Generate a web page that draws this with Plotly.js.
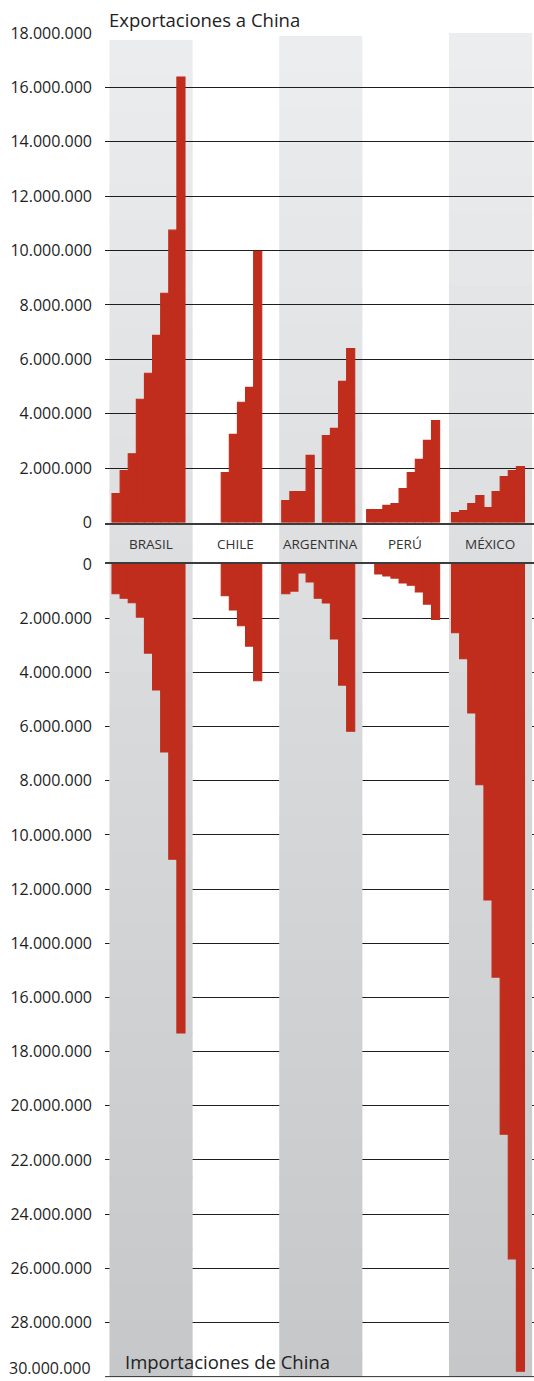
<!DOCTYPE html>
<html>
<head>
<meta charset="utf-8">
<script src="https://cdn.plot.ly/plotly-3.0.1.min.js"></script>
<style>
  html, body { margin: 0; padding: 0; background: #ffffff; }
  #chart { width: 534px; height: 1381px; }
</style>
</head>
<body>
<div id="chart"></div>
<script>
// ---- Data ----
const countries = ['BRASIL', 'CHILE', 'ARGENTINA', 'PERÚ', 'MÉXICO'];
const years = ['2000', '2001', '2002', '2003', '2004', '2005', '2006', '2007', '2008'];

// Exportaciones a China
const brasilExp    = [1060000, 1910000, 2530000, 4530000, 5490000, 6880000, 8430000, 10750000, 16380000];
const chileExp     = [0, 0, 0, 1840000, 3240000, 4420000, 4970000, 9970000, 0];
const argentinaExp = [810000, 1140000, 1140000, 2470000, 0, 3200000, 3460000, 5190000, 6400000];
const peruExp      = [480000, 480000, 630000, 700000, 1250000, 1840000, 2320000, 3020000, 3750000];
const mexicoExp    = [370000, 440000, 700000, 990000, 550000, 1140000, 1690000, 1910000, 2060000];

// Importaciones de China
const brasilImp    = [1100000, 1260000, 1430000, 1960000, 3290000, 4650000, 6940000, 10900000, 17310000];
const chileImp     = [0, 0, 0, 1170000, 1700000, 2280000, 3030000, 4310000, 0];
const argentinaImp = [1100000, 1000000, 330000, 660000, 1260000, 1440000, 2770000, 4470000, 6170000];
const peruImp      = [0, 370000, 440000, 520000, 700000, 780000, 1030000, 1480000, 2050000];
const mexicoImp    = [2540000, 3500000, 5500000, 8150000, 12400000, 15250000, 21050000, 25650000, 29800000];

const expTicks = [0, 2000000, 4000000, 6000000, 8000000, 10000000, 12000000, 14000000, 16000000, 18000000];
const impTicks = [0, 2000000, 4000000, 6000000, 8000000, 10000000, 12000000, 14000000, 16000000, 18000000,
                  20000000, 22000000, 24000000, 26000000, 28000000, 30000000];

const topTitle = 'Exportaciones a China';
const bottomTitle = 'Importaciones de China';

// ---- Styling / layout ----
const W = 534, H = 1381;
const ML = 105;
const RED = '#c02d1c';
const FONT = '"Open Sans", "Noto Sans", sans-serif';
const expSeries = [brasilExp, chileExp, argentinaExp, peruExp, mexicoExp];
const impSeries = [brasilImp, chileImp, argentinaImp, peruImp, mexicoImp];
const idx = countries.map((c, i) => i);
const nz = v => (v === 0 ? null : v);   // no data -> no bar
const fmt = v => v.toLocaleString('de-DE');

// pixel positions (from top) of panel edges
const TOP_Y0 = 522.5, TOP_Y1 = 33;
const BOT_Y0 = 1377.5, BOT_Y1 = 564;
const IMP_MAX = 30030000; // small headroom so the last gridline is kept
const pf = px => 1 - px / H;   // pixel -> paper fraction

const barMarker = { color: RED, line: { width: 1.1, color: RED } };
const traces = [];
years.forEach((yr, j) => {
  traces.push({
    type: 'bar', name: yr, x: idx, y: expSeries.map(s => nz(s[j])),
    xaxis: 'x', yaxis: 'y', marker: barMarker,
    showlegend: false, hoverinfo: 'skip'
  });
});
years.forEach((yr, j) => {
  traces.push({
    type: 'bar', name: yr, x: idx, y: impSeries.map(s => nz(s[j])),
    xaxis: 'x2', yaxis: 'y2', marker: barMarker,
    showlegend: false, hoverinfo: 'skip'
  });
});

// ---- Background bands (gradient approximated by strips) ----
const XR = [-0.5125, 4.542];
const bandIdx = [0, 2, 4];
const bandTop = [40, 36, 33];
const bandL = -0.46, bandR = 0.52;
const gTop = 38, gBot = 1377, cTop = 236, cBot = 198;
const colAt = px => {
  const t = Math.max(0, Math.min(1, (px - gTop) / (gBot - gTop)));
  const v = Math.round(cTop + (cBot - cTop) * t);
  return `rgb(${v},${v + 1},${v + 3})`;
};
const toV = px => (px - BOT_Y1) / (BOT_Y0 - BOT_Y1) * IMP_MAX;
const shapes = [];
bandIdx.forEach((ci, k) => {
  const step = 36;
  // upper part (top panel + label strip): below gridlines
  for (let p = bandTop[k]; p < BOT_Y1; p += step) {
    const p2 = Math.min(p + step + 1, BOT_Y1 + 1);
    shapes.push({
      type: 'rect', xref: 'x', yref: 'paper', layer: 'below',
      x0: ci + bandL, x1: ci + bandR, y0: pf(p2), y1: pf(p),
      fillcolor: colAt(p + step / 2), line: { width: 0 }
    });
  }
  // lower part (bottom panel): above gridlines, below bars
  for (let p = BOT_Y1; p < 1376.5; p += step) {
    const p2 = Math.min(p + step + 1, 1376.5);
    shapes.push({
      type: 'rect', xref: 'x2', yref: 'y2', layer: 'between',
      x0: ci + bandL, x1: ci + bandR, y0: toV(p), y1: toV(p2),
      fillcolor: colAt(p + step / 2), line: { width: 0 }
    });
  }
});
// closing rule at 30.000.000
const lastImpTick = impTicks[impTicks.length - 1];
shapes.push({
  type: 'line', xref: 'x2', yref: 'y2', layer: 'above',
  x0: XR[0], x1: XR[1], y0: lastImpTick, y1: lastImpTick,
  line: { color: '#1e1e1e', width: 1 }
});

// ---- Annotations ----
const annotations = [
  { text: topTitle, xref: 'paper', yref: 'paper', x: 2 / (W - ML), y: pf(19),
    xanchor: 'left', yanchor: 'middle', showarrow: false,
    font: { family: FONT, size: 18.5, color: '#222' } },
  { text: bottomTitle, xref: 'paper', yref: 'paper', x: 18 / (W - ML), y: pf(1361),
    xanchor: 'left', yanchor: 'middle', showarrow: false,
    font: { family: FONT, size: 18.5, color: '#222' } },
  // last import tick label, lifted slightly so it stays inside the page
  { text: fmt(lastImpTick), xref: 'paper', yref: 'paper', x: (93 - ML) / (W - ML), y: 0,
    xanchor: 'right', yanchor: 'bottom', showarrow: false,
    font: { family: FONT, size: 16, color: '#1e1e1e' } }
];
countries.forEach((c, i) => {
  annotations.push({
    text: c, xref: 'x', yref: 'paper', x: i, y: pf(544), xshift: 2,
    xanchor: 'center', yanchor: 'middle', showarrow: false,
    font: { family: FONT, size: 13.5, color: '#333' }
  });
});

const yCommon = {
  tickformat: ',d', ticks: '', showline: false, zeroline: false,
  gridcolor: '#1e1e1e', gridwidth: 1, fixedrange: true, ticklabeloverflow: 'allow',
  tickfont: { family: FONT, size: 16, color: '#1e1e1e' }, ticklabelstandoff: 12
};
const xCommon = {
  range: XR, showgrid: false, zeroline: false, showticklabels: false, ticks: '',
  showline: true, linecolor: '#3c3c3c', linewidth: 2, fixedrange: true
};

const layout = {
  width: W, height: H,
  margin: { l: ML, r: 0, t: 0, b: 0, pad: 0 },
  paper_bgcolor: '#ffffff', plot_bgcolor: 'rgba(0,0,0,0)',
  separators: ',.',
  barmode: 'group', bargap: 0.14, bargroupgap: 0,
  showlegend: false,
  xaxis: Object.assign({}, xCommon, { domain: [0, 1], anchor: 'y' }),
  yaxis: Object.assign({}, yCommon, { domain: [pf(TOP_Y0), pf(TOP_Y1)], range: [0, 18000000],
                                      tickvals: expTicks, anchor: 'x' }),
  xaxis2: Object.assign({}, xCommon, { domain: [0, 1], anchor: 'y2', side: 'top' }),
  yaxis2: Object.assign({}, yCommon, { domain: [pf(BOT_Y0), pf(BOT_Y1)], range: [IMP_MAX, 0],
                                       tickvals: impTicks.slice(0, -1), anchor: 'x2' }),
  shapes: shapes,
  annotations: annotations
};

Plotly.newPlot('chart', traces, layout, { displayModeBar: false, staticPlot: true });
</script>
</body>
</html>
